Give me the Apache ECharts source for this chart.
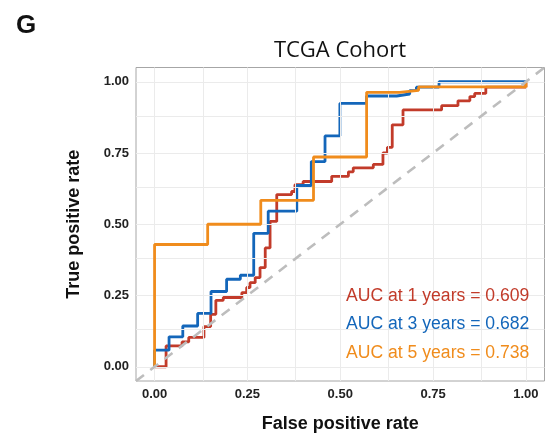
<!DOCTYPE html>
<html>
<head>
<meta charset="utf-8">
<script src="https://cdn.jsdelivr.net/npm/echarts@6/dist/echarts.min.js"></script>
<style>
html,body{margin:0;padding:0;background:#fff;}
#chart{width:554px;height:438px;}
</style>
</head>
<body>
<div id="chart"></div>
<script>
// ---- data ----
const seriesNames = ['AUC at 1 years = 0.609', 'AUC at 3 years = 0.682', 'AUC at 5 years = 0.738'];
const seriesColors = ['#C23B2A', '#1366BA', '#F08C1C'];

// 1-year ROC (points at each jump; drawn as step 'end')
const fpr1 = [0, 0.031, 0.074, 0.092, 0.133, 0.151, 0.165, 0.185, 0.235, 0.248, 0.257, 0.271, 0.284, 0.298, 0.311, 0.329, 0.369, 0.378, 0.400, 0.477, 0.522, 0.535, 0.589, 0.615, 0.627, 0.640, 0.669, 0.773, 0.817, 0.849, 0.862, 0.892, 1.000];
const tpr1 = [0, 0.073, 0.087, 0.103, 0.141, 0.184, 0.233, 0.243, 0.260, 0.278, 0.295, 0.313, 0.348, 0.417, 0.510, 0.604, 0.615, 0.639, 0.650, 0.668, 0.684, 0.698, 0.710, 0.750, 0.770, 0.849, 0.901, 0.916, 0.933, 0.948, 0.959, 0.981, 1.000];

// 3-year ROC
const fpr3 = [0, 0, 0.039, 0.076, 0.116, 0.152, 0.194, 0.231, 0.267, 0.306, 0.383, 0.422, 0.459, 0.499, 0.571, 0.652, 0.687, 0.705, 0.766, 1.000];
const tpr3 = [0, 0.058, 0.105, 0.143, 0.187, 0.264, 0.307, 0.321, 0.468, 0.546, 0.636, 0.720, 0.810, 0.924, 0.950, 0.957, 0.969, 0.981, 1.000, 1.000];

// 5-year ROC
const fpr5 = [0, 0, 0.143, 0.286, 0.428, 0.571, 0.660, 0.711, 1.000];
const tpr5 = [0, 0.429, 0.500, 0.584, 0.736, 0.963, 0.970, 0.982, 1.000];

const axisTicks = [0, 0.25, 0.5, 0.75, 1];
const gridValues = [0, 0.125, 0.25, 0.375, 0.5, 0.625, 0.75, 0.875, 1];
const diagRange = [-0.05, 1.05];
const axisRange = [-0.05, 1.05];

// ---- chart ----
const chart = echarts.init(document.getElementById('chart'), null, {renderer: 'canvas'});
const zip = (xs, ys) => xs.map((x, i) => [x, ys[i]]);

const curves = [[fpr1, tpr1], [fpr3, tpr3], [fpr5, tpr5]].map((c, i) => ({
  type: 'line',
  name: seriesNames[i],
  data: zip(c[0], c[1]),
  step: 'end',
  symbol: 'none',
  z: 3 + i,
  lineStyle: {color: seriesColors[i], width: 2.8},
  itemStyle: {color: seriesColors[i]},
  silent: true
}));

const tickLabel = {
  customValues: axisTicks,
  formatter: v => v.toFixed(2),
  color: '#222',
  fontFamily: 'Liberation Sans, Arial, sans-serif',
  fontWeight: 'bold',
  fontSize: 13
};

const option = {
  animation: false,
  backgroundColor: '#fff',
  grid: {
    left: 136, top: 67.5, width: 408.5, height: 314.5,
    show: true, borderColor: '#a6a6a6', borderWidth: 1, backgroundColor: '#fff'
  },
  xAxis: {
    type: 'value', min: axisRange[0], max: axisRange[1],
    axisLine: {show: false},
    axisTick: {show: true, customValues: axisTicks, length: 4, lineStyle: {color: '#8c8c8c', width: 1}},
    axisLabel: Object.assign({margin: 7}, tickLabel),
    splitLine: {show: false},
    name: 'False positive rate', nameLocation: 'middle', nameGap: 34,
    nameTextStyle: {fontFamily: 'Liberation Sans, Arial, sans-serif', fontWeight: 'bold', fontSize: 18, color: '#111'}
  },
  yAxis: {
    type: 'value', min: axisRange[0], max: axisRange[1],
    axisLine: {show: false},
    axisTick: {show: true, customValues: axisTicks, length: 4, lineStyle: {color: '#8c8c8c', width: 1}},
    axisLabel: Object.assign({margin: 7}, tickLabel),
    splitLine: {show: false},
    name: 'True positive rate', nameLocation: 'middle', nameGap: 53,
    nameTextStyle: {fontFamily: 'Liberation Sans, Arial, sans-serif', fontWeight: 'bold', fontSize: 18, color: '#111'}
  },
  graphic: [
    {type: 'text', z: 100, left: 16, top: 13, style: {text: 'G', font: 'bold 26px "Liberation Sans", Arial, sans-serif', fill: '#111'}},
    {type: 'text', z: 100, x: 340, y: 51, style: {text: 'TCGA Cohort', font: '22px "Open Sans", sans-serif', fill: '#111', align: 'center', verticalAlign: 'middle'}},
    ...seriesNames.map((t, i) => ({
      type: 'text', z: 100, x: 346, y: 296 + i * 28.5,
      style: {text: t, font: '17.6px "Liberation Sans", Arial, sans-serif', fill: seriesColors[i], align: 'left', verticalAlign: 'middle'}
    }))
  ],
  series: [
    {
      type: 'line', data: [], silent: true, z: 1,
      markLine: {
        silent: true, symbol: ['none', 'none'], label: {show: false},
        lineStyle: {color: '#ebebeb', width: 1, type: 'solid'},
        data: gridValues.map(v => ({xAxis: v})).concat(gridValues.map(v => ({yAxis: v})))
      }
    },
    ...curves,
    {
      type: 'line', data: zip(diagRange, diagRange), symbol: 'none', z: 10, silent: true,
      lineStyle: {color: '#bdbdbd', width: 2.6, type: [10, 8]}
    }
  ]
};
chart.setOption(option);
</script>
</body>
</html>
